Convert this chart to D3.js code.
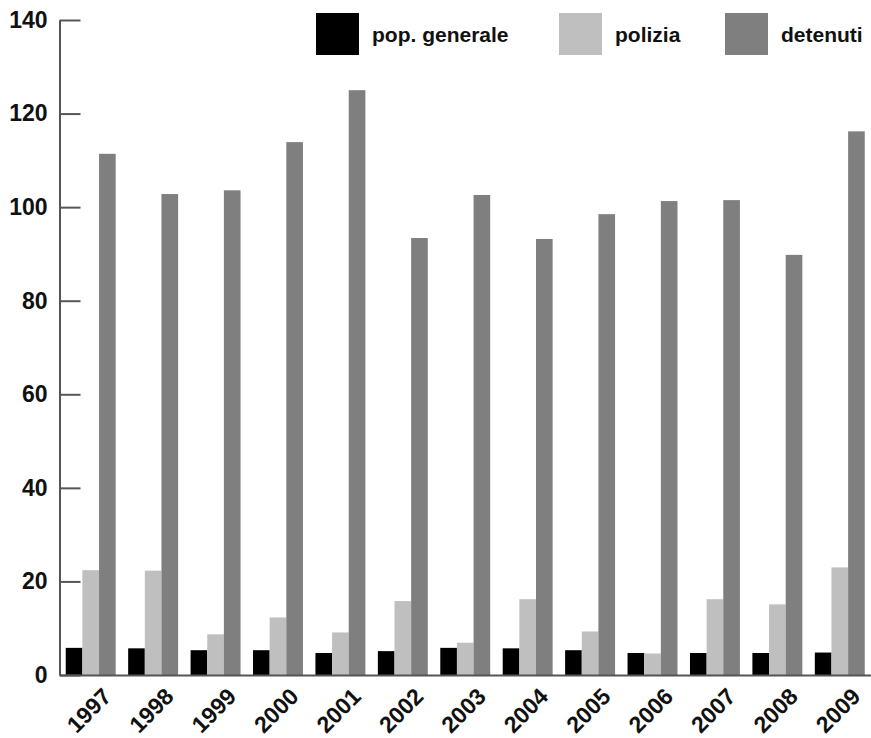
<!DOCTYPE html>
<html lang="it">
<head>
    <meta charset="UTF-8">
    <title>pop. generale / polizia / detenuti</title>
    <script src="https://d3js.org/d3.v7.min.js"></script>
    <style>
        body {
            margin: 0;
            background: #fff;
            font-family: "Liberation Sans", Arial, sans-serif;
        }
        svg {
            display: block;
        }
        .axis text {
            font-size: 23px;
            font-weight: bold;
            fill: #111;
        }
        .legend text {
            font-size: 21px;
            font-weight: bold;
            fill: #111;
        }
    </style>
</head>
<body>

    <div id="container"></div>

    <script>

        // data
        const years = ['1997','1998','1999','2000','2001','2002','2003','2004','2005','2006','2007','2008','2009'];
        const series = ['pop. generale', 'polizia', 'detenuti'];
        const popGenerale = [5.8, 5.7, 5.3, 5.3, 4.7, 5.1, 5.8, 5.7, 5.3, 4.7, 4.7, 4.7, 4.8];
        const polizia = [22.4, 22.3, 8.7, 12.3, 9.1, 15.8, 6.9, 16.2, 9.3, 4.6, 16.2, 15.1, 23.0];
        const detenuti = [111.4, 102.8, 103.6, 113.9, 125.0, 93.4, 102.6, 93.2, 98.5, 101.3, 101.5, 89.8, 116.2];
        const yTicks = [0, 20, 40, 60, 80, 100, 120, 140];

        const colors = ['#000000', '#bfbfbf', '#7f7f7f'];

        // build rows for the grouped bars
        const rows = years.map((y, i) => ({
            year: y,
            values: [popGenerale[i], polizia[i], detenuti[i]]
        }));

        const width = 871;
        const height = 738;

        const svg = d3.select('#container').append('svg')
            .attr('width', width)
            .attr('height', height);

        // scales
        const x0 = d3.scaleBand()
            .domain(years)
            .range([59.5, 871])
            .paddingInner(0.2)
            .paddingOuter(0.1);

        const x1 = d3.scaleBand()
            .domain(series)
            .range([0, x0.bandwidth()]);

        const y = d3.scaleLinear()
            .domain([0, 140])
            .range([675, 20]);

        const color = d3.scaleOrdinal()
            .domain(series)
            .range(colors);

        // bars
        const groups = svg.selectAll('.group')
            .data(rows)
            .enter()
            .append('g')
            .attr('class', 'group')
            .attr('transform', d => 'translate(' + x0(d.year) + ',0)');

        groups.selectAll('rect')
            .data(d => d.values.map((v, j) => ({ key: series[j], value: v })))
            .enter()
            .append('rect')
            .attr('x', d => x1(d.key))
            .attr('y', d => y(d.value))
            .attr('width', x1.bandwidth())
            .attr('height', d => y(0) - y(d.value))
            .attr('fill', d => color(d.key));

        // y axis, ticks pointing inward
        const yAxis = svg.append('g')
            .attr('class', 'axis')
            .attr('transform', 'translate(59.5,0)')
            .call(d3.axisLeft(y)
                .tickValues(yTicks)
                .tickSize(-21)
                .tickSizeOuter(0)
                .tickPadding(12));

        yAxis.select('.domain').attr('stroke', '#555').attr('stroke-width', 2);
        yAxis.selectAll('.tick line').attr('stroke', '#555').attr('stroke-width', 2);

        // x axis: only the baseline, labels rotated
        const xAxis = svg.append('g')
            .attr('class', 'axis')
            .attr('transform', 'translate(0,675)')
            .call(d3.axisBottom(x0).tickSize(0).tickSizeOuter(0));

        xAxis.select('.domain').attr('stroke', '#555').attr('stroke-width', 2);

        xAxis.selectAll('.tick text')
            .attr('text-anchor', 'end')
            .attr('dy', 0)
            .attr('y', 0)
            .attr('transform', 'translate(22,23) rotate(-45)');

        // legend
        const legendX = [316, 559, 725];
        const legend = svg.append('g').attr('class', 'legend');

        const items = legend.selectAll('g')
            .data(series)
            .enter()
            .append('g')
            .attr('transform', (d, i) => 'translate(' + legendX[i] + ',13)');

        items.append('rect')
            .attr('width', 43)
            .attr('height', 42)
            .attr('fill', d => color(d));

        items.append('text')
            .attr('x', 56)
            .attr('y', 21)
            .attr('dominant-baseline', 'central')
            .text(d => d);

    </script>

</body>
</html>
